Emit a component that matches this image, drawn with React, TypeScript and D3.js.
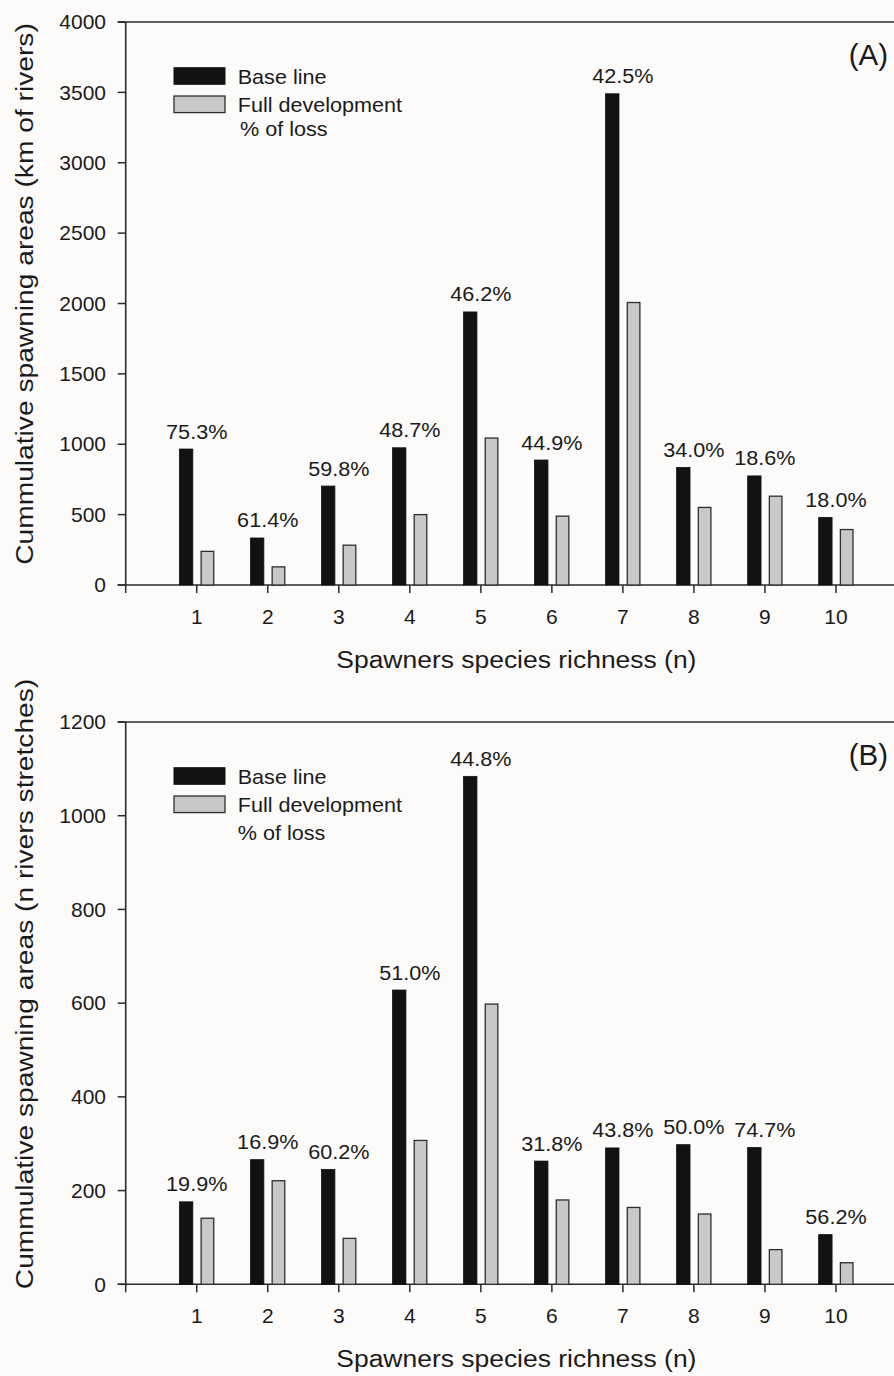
import React from "react";
import * as d3 from "d3";

const categories = [1, 2, 3, 4, 5, 6, 7, 8, 9, 10];
const baseA = [966, 334, 703, 975, 1940, 888, 3490, 835, 775, 480];
const fullA = [239, 129, 283, 500, 1044, 489, 2007, 551, 631, 394];
const lossA = ["75.3%", "61.4%", "59.8%", "48.7%", "46.2%", "44.9%", "42.5%", "34.0%", "18.6%", "18.0%"];
const baseB = [176, 266, 245, 628, 1084, 263, 291, 298, 292, 106];
const fullB = [141, 221, 98, 307, 598, 180, 164, 150, 74, 46];
const lossB = ["19.9%", "16.9%", "60.2%", "51.0%", "44.8%", "31.8%", "43.8%", "50.0%", "74.7%", "56.2%"];
const ticksA = [0, 500, 1000, 1500, 2000, 2500, 3000, 3500, 4000];
const ticksB = [0, 200, 400, 600, 800, 1000, 1200];
const legendLabels = ["Base line", "Full development", "% of loss"];
const xTitle = "Spawners species richness (n)";
const yTitleA = "Cummulative spawning areas (km of rivers)";
const yTitleB = "Cummulative spawning areas (n rivers stretches)";

const W = 894;
const H = 1376;
const FONT = "'Liberation Sans', Arial, Helvetica, sans-serif";
const AX = "#2b2b2b";

const x = d3.scaleLinear().domain([0, 11]).range([125.7, 907]);

function T(props: any) {
  const { x, y, anchor = "start", size, sx = 1, rot = 0, children, dy } = props;
  return (
    <text
      transform={`translate(${x},${y}) rotate(${rot}) scale(${sx},1)`}
      textAnchor={anchor}
      fontSize={size}
      fontFamily={FONT}
      fill="#1a1a1a"
      dy={dy}
    >
      {children}
    </text>
  );
}

function Panel(props: any) {
  const { top, bottom, max, ticks, base, full, loss, label, yTitle, yTitleCenter, lossLineOff, lossX } = props;
  const y = d3.scaleLinear().domain([0, max]).range([bottom, top]);
  const x0 = x(0);
  return (
    <g>
      <line x1={x0 - 8} x2={W + 20} y1={top} y2={top} stroke={AX} strokeWidth={1.6} />
      <line x1={x0} x2={x0} y1={top} y2={bottom} stroke={AX} strokeWidth={1.6} />
      <line x1={x0 - 8} x2={x(11)} y1={bottom} y2={bottom} stroke={AX} strokeWidth={1.6} />
      {ticks.map((t: number) => (
        <g key={t}>
          <line x1={x0 - 8} x2={x0} y1={y(t)} y2={y(t)} stroke={AX} strokeWidth={1.5} />
          <T x={106} y={y(t)} anchor="end" size={20} sx={1.05} dy="0.36em">
            {t}
          </T>
        </g>
      ))}
      {[0, ...categories].map((c) => (
        <line key={c} x1={x(c)} x2={x(c)} y1={bottom} y2={bottom + 8} stroke={AX} strokeWidth={1.5} />
      ))}
      {categories.map((c) => (
        <T key={c} x={x(c)} y={bottom + 38.5} anchor="middle" size={20} sx={1.05}>
          {c}
        </T>
      ))}
      {categories.map((c, i) => (
        <g key={"b" + c}>
          <rect x={x(c) - 17.3} y={y(base[i])} width={13.4} height={bottom - y(base[i])} fill="#121212" stroke="#121212" strokeWidth={0.8} />
          <rect x={x(c) + 4.4} y={y(full[i])} width={12.6} height={bottom - y(full[i])} fill="#c8c8c8" stroke="#2e2e2e" strokeWidth={1.3} />
          <T x={x(c)} y={y(base[i]) - 10.5} anchor="middle" size={21} sx={1.03}>
            {loss[i]}
          </T>
        </g>
      ))}
      <rect x={174} y={top + 45.7} width={51} height={16.6} fill="#121212" stroke="#121212" strokeWidth={1} />
      <rect x={174} y={top + 74} width={51} height={16.6} fill="#c8c8c8" stroke="#2e2e2e" strokeWidth={1.3} />
      <T x={237.7} y={top + 62} size={20} sx={1.08}>{legendLabels[0]}</T>
      <T x={237.7} y={top + 89.7} size={20} sx={1.08}>{legendLabels[1]}</T>
      <T x={lossX} y={top + lossLineOff} size={20} sx={1.08}>{legendLabels[2]}</T>
      <T x={888} y={top + 42.5} anchor="end" size={29.5}>{label}</T>
      <T x={x(5.5)} y={bottom + 82.5} anchor="middle" size={24.5} sx={1.08}>{xTitle}</T>
      <T x={33} y={yTitleCenter} anchor="middle" size={24.5} sx={1.15} rot={-90}>{yTitle}</T>
    </g>
  );
}

export default function App() {
  return (
    <svg width={W} height={H} viewBox={`0 0 ${W} ${H}`} style={{ position: "absolute", left: 0, top: 0, display: "block" }}>
      <rect x={0} y={0} width={W} height={H} fill="#fdfbfa" />
      <Panel top={22} bottom={585} max={4000} ticks={ticksA} base={baseA} full={fullA} loss={lossA} label="(A)" yTitle={yTitleA} yTitleCenter={294} lossLineOff={114} lossX={240} />
      <Panel top={722} bottom={1284.3} max={1200} ticks={ticksB} base={baseB} full={fullB} loss={lossB} label="(B)" yTitle={yTitleB} yTitleCenter={984} lossLineOff={118} lossX={237.7} />
    </svg>
  );
}
